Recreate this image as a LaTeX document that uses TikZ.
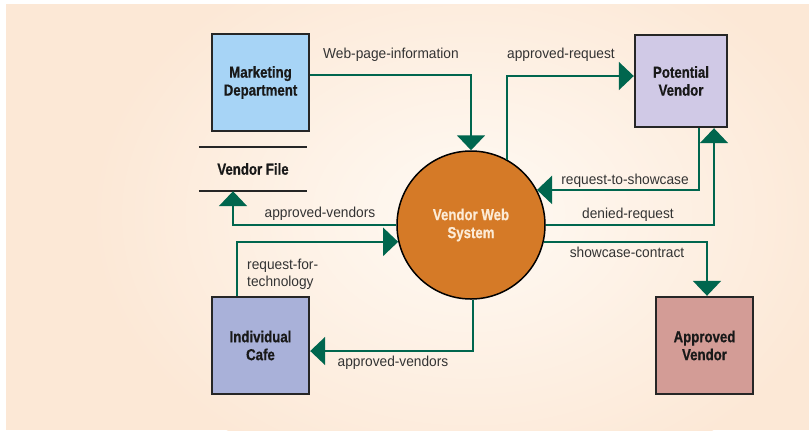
\documentclass[tikz,border=0pt]{standalone}
\usepackage{fontspec}
\setmainfont{Liberation Sans}
\newfontfamily\bcond[FakeStretch=0.83,FakeBold=0.6]{Liberation Sans Bold}
\newfontfamily\lcond[FakeStretch=0.95]{Liberation Sans}
\usetikzlibrary{arrows.meta,calc}
\definecolor{peach}{HTML}{FCE8D6}
\definecolor{peachin}{HTML}{FFFAF4}
\definecolor{flowgreen}{HTML}{00664E}
\definecolor{mktblue}{HTML}{A7D4F6}
\definecolor{pvlav}{HTML}{D0C9E6}
\definecolor{cafeblue}{HTML}{A9B1D9}
\definecolor{avrose}{HTML}{D39C96}
\definecolor{vwsorange}{HTML}{D57A27}
\definecolor{vwstext}{HTML}{FCEBD6}
\definecolor{labelgray}{HTML}{333333}
\tikzset{
  entity/.style={draw=black!85, line width=2.4bp, minimum width=97bp, minimum height=97bp,
    inner sep=0pt, align=center, font=\bcond\fontsize{16}{18}\selectfont, text=black!90},
  flow/.style={draw=flowgreen, line width=2bp, -{Triangle[width=28bp,length=15bp]}},
  flowlabel/.style={font=\lcond\fontsize{14.5}{16}\selectfont, text=labelgray, inner sep=0pt}
}
\begin{document}
\begin{tikzpicture}[x=1bp,y=-1bp]
\useasboundingbox (0,0) rectangle (809,430);
% background
\fill[white] (0,0) rectangle (809,430);
\begin{scope}
\clip (6,4) rectangle (809,430);
\fill[peach] (6,4) rectangle (809,430);
\shade[inner color=peachin, outer color=peach] (470,215) ellipse [x radius=380, y radius=280];
\end{scope}
% entities
\node[entity, fill=mktblue] (mkt) at (260.5,82.5) {Marketing\\Department};
\node[entity, fill=pvlav, minimum width=92bp, minimum height=92bp] (pv) at (681,81) {Potential\\Vendor};
\node[entity, fill=cafeblue] (cafe) at (260.5,345.5) {Individual\\Cafe};
\node[entity, fill=avrose] (av) at (704.5,345.5) {Approved\\Vendor};
\node[circle, draw=black, line width=1.5bp, fill=vwsorange, minimum size=148bp, inner sep=0pt,
  align=center, font=\bcond\fontsize{16}{18}\selectfont, text=vwstext] (vws) at (471,225) {Vendor Web\\System};
% data store
\node[minimum width=108bp, minimum height=44bp, inner sep=0pt, font=\bcond\fontsize{16}{18}\selectfont, text=black!90] (vf) at (253,169) {Vendor File};
\draw[black!85, line width=2bp] (vf.north west) -- (vf.north east);
\draw[black!85, line width=2bp] (vf.south west) -- (vf.south east);
% flows
\draw[flow] ([yshift=7.5bp]mkt.east) -| (vws.north);
\draw[flow] (vws.61) |- ([yshift=5bp]pv.west);
\draw[flow] ([xshift=18bp]pv.south) |- (vws.28);
\draw[flow] (vws.east) -| ([xshift=33bp]pv.south);
\draw[flow] (vws.-13.3) -| ([xshift=2.5bp]av.north);
\draw[flow] (vws.west) -| ([xshift=-20bp]vf.south);
\draw[flow] ([xshift=-23.5bp]cafe.north) |- (vws.193.3);
\draw[flow] ([xshift=2bp]vws.south) |- ([yshift=-5.5bp]cafe.east);
% labels
\node[flowlabel] (l1) at (391,55) {Web-page-information};
\node[flowlabel] (l2) at (561,55) {approved-request};
\node[flowlabel] (l3) at (625,181) {request-to-showcase};
\node[flowlabel] (l4) at (628,215) {denied-request};
\node[flowlabel] (l5) at (627,252) {showcase-contract};
\node[flowlabel] (l6) at (320,214) {approved-vendors};
\node[flowlabel, align=left, anchor=north west, font=\lcond\fontsize{14.5}{16.5}\selectfont] (l7) at (247,259) {request-for-\\technology};
\node[flowlabel] (l8) at (393,363) {approved-vendors};
\end{tikzpicture}
\end{document}
